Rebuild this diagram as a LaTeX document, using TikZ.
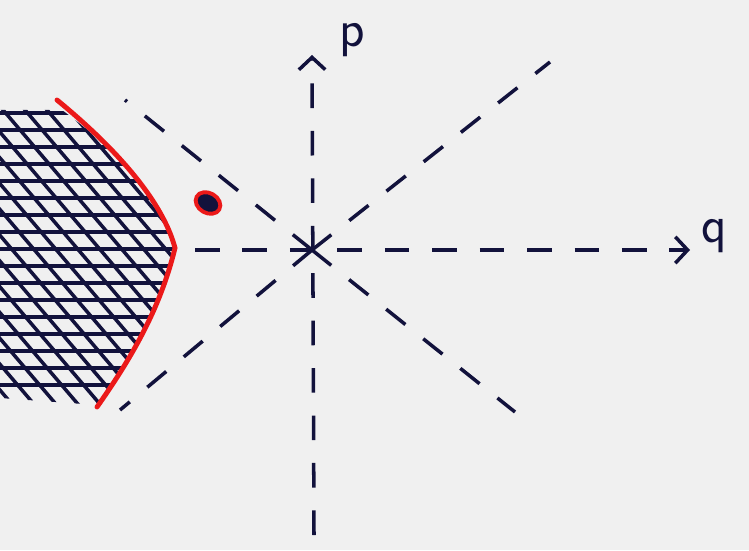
\documentclass[tikz,border=0pt]{standalone}
\usetikzlibrary{arrows.meta}
\definecolor{paper}{RGB}{240,240,240}
\definecolor{ink}{RGB}{18,18,60}
\definecolor{marker}{RGB}{235,25,25}
\tikzset{
  ray/.style={ink,line width=2pt,dash pattern=on 14pt off 13pt},
  axis/.style={ray,-{Straight Barb[length=7pt,width=15pt,line width=2pt]}},
  hatch/.style={ink,line width=2.4pt},
  boundary/.style={marker,line width=2.8pt,line cap=round},
  lbl/.style={ink,font=\fontsize{30}{30}\sffamily},
}

\begin{document}
\begin{tikzpicture}[x=0.02cm,y=-0.02cm]
  \fill[paper] (0,0) rectangle (749,550);
  \useasboundingbox (0,0) rectangle (749,550);

  \coordinate (O)      at (312,250);
  \coordinate (pstart) at (314,535);
  \coordinate (pend)   at (312,55);
  \coordinate (qstart) at (195,250);
  \coordinate (qend)   at (690,250);

  % shaded region
  \begin{scope}
    \clip (0,110) -- (62,110) .. controls (130,160) and (165,210) .. (175,248)
          .. controls (160,310) and (130,360) .. (97,405) -- (0,398) -- cycle;
    \foreach \y in {113,130,...,400}
      \draw[hatch] (0,\y) -- (200,\y);
    \foreach \x in {-300,-278,...,200}
      \draw[hatch,line width=2pt] (\x,90) -- ++(290,340);
  \end{scope}
  \draw[boundary] (57,100) .. controls (130,160) and (165,210) .. (175,248)
          .. controls (160,310) and (130,360) .. (97,407);

  % axes
  \draw[axis] (pstart) -- (pend);
  \draw[axis] (qstart) -- (qend);
  \node[lbl] (p) at (352,40) {p};
  \node[lbl] (q) at (714,236) {q};

  % rays through the origin
  \foreach \a/\b in {550/62,515/412,125/100,120/410}
    \draw[ray] (O) -- (\a,\b);

  % marked point
  \draw[marker,line width=2.2pt,fill=ink,rotate around={-30:(208,203)}]
    (208,203) ellipse (13 and 10);
\end{tikzpicture}
\end{document}
